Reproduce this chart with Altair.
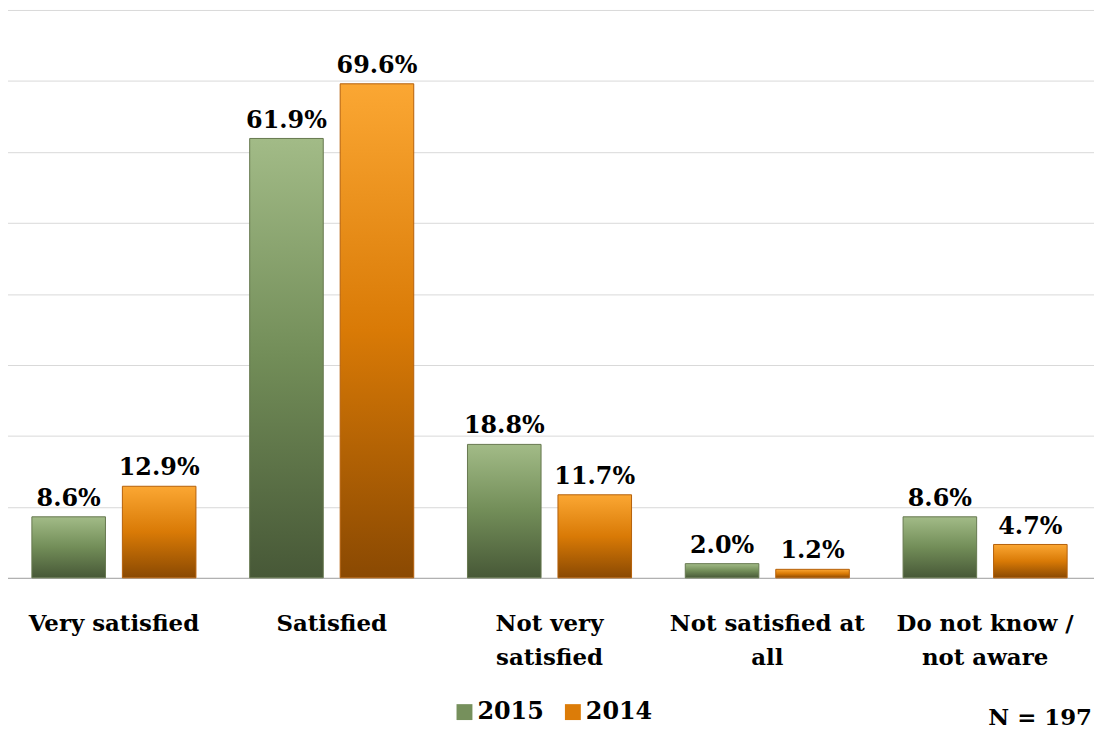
import altair as alt
import pandas as pd

categories = ["Very satisfied", "Satisfied", "Not very\nsatisfied", "Not satisfied at\nall", "Do not know /\nnot aware"]
years = ["2015", "2014"]
values_2015 = [8.6, 61.9, 18.8, 2.0, 8.6]
values_2014 = [12.9, 69.6, 11.7, 1.2, 4.7]
note = "N = 197"

rows = []
for c, v in zip(categories, values_2015):
    rows.append({"cat": c, "year": "2015", "value": v})
for c, v in zip(categories, values_2014):
    rows.append({"cat": c, "year": "2014", "value": v})
df = pd.DataFrame(rows)

FONT = "DejaVu Serif"

x_enc = alt.X("cat:N", sort=categories,
              scale=alt.Scale(paddingInner=0, paddingOuter=0),
              axis=alt.Axis(title=None, labelFont=FONT, labelFontWeight="bold", labelFontSize=23,
                            labelColor="#000000", labelAngle=0, labelLimit=400,
                            labelExpr="split(datum.label, '\\n')", labelLineHeight=34,
                            labelBaseline="alphabetic", labelPadding=53,
                            ticks=False, tickSize=0, domainColor="#a6a6a6", domainWidth=1))
xo_enc = alt.XOffset("year:N", sort=years,
                     scale=alt.Scale(domain=years, paddingInner=0.187, paddingOuter=0.297))
y_enc = alt.Y("value:Q", scale=alt.Scale(domain=[0, 80], nice=False),
              axis=alt.Axis(title=None, labels=False, ticks=False, domain=False,
                            values=[0, 10, 20, 30, 40, 50, 60, 70, 80],
                            grid=True, gridColor="#d9d9d9", gridWidth=1))

base = alt.Chart(df).encode(x=x_enc, xOffset=xo_enc, y=y_enc)

green_grad = alt.Gradient(gradient="linear", x1=0, x2=0, y1=0, y2=1,
                          stops=[alt.GradientStop(color="#a2bb87", offset=0),
                                 alt.GradientStop(color="#728d58", offset=0.5),
                                 alt.GradientStop(color="#475837", offset=1)])
orange_grad = alt.Gradient(gradient="linear", x1=0, x2=0, y1=0, y2=1,
                           stops=[alt.GradientStop(color="#fba733", offset=0),
                                  alt.GradientStop(color="#d97a06", offset=0.5),
                                  alt.GradientStop(color="#8a4902", offset=1)])

bars15 = base.transform_filter(alt.datum.year == "2015").mark_bar(
    color=green_grad, stroke="#66784f", strokeWidth=1)
bars14 = base.transform_filter(alt.datum.year == "2014").mark_bar(
    color=orange_grad, stroke="#b4600a", strokeWidth=1)

labels = base.transform_calculate(
    lbl="format(datum.value, '.1f') + '%'"
).mark_text(font=FONT, fontWeight="bold", fontSize=24, color="#000000",
            baseline="alphabetic", dy=-11).encode(text="lbl:N")

legend_layer = base.mark_point(filled=True, shape="square", opacity=0).encode(
    color=alt.Color("year:N", sort=years,
                    scale=alt.Scale(domain=years, range=["#76905c", "#dc7c08"]),
                    legend=alt.Legend(title=None, orient="none", legendX=450, legendY=694,
                                      direction="horizontal", symbolType="square",
                                      symbolSize=256, symbolOpacity=1, symbolStrokeWidth=0,
                                      labelFont=FONT, labelFontWeight="bold", labelFontSize=24,
                                      labelColor="#000000", labelOffset=1, columnPadding=17))
)

note_layer = alt.Chart(pd.DataFrame({"t": [note]})).mark_text(
    font=FONT, fontWeight="bold", fontSize=23, color="#000000", align="right",
    baseline="alphabetic").encode(text="t:N", x=alt.value(1093), y=alt.value(719))

chart = alt.layer(bars15, bars14, labels, legend_layer, note_layer).properties(
    width=1095, height=571,
    autosize="none",
    padding={"left": -3, "top": 0, "right": 0, "bottom": 151},
).configure_view(stroke=None)

chart.save("out.html", embed_options={"renderer": "svg", "actions": False})
